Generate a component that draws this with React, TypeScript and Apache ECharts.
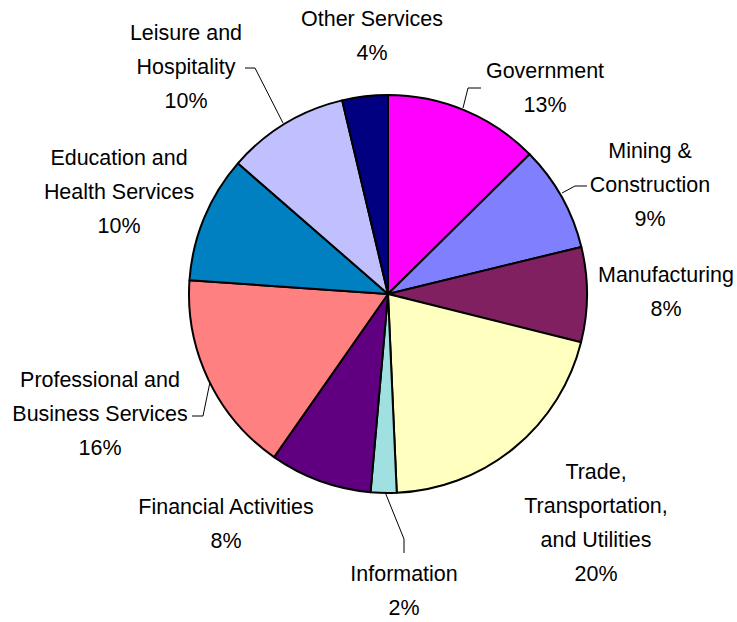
import React, { useEffect, useRef } from "react";
import * as echarts from "echarts";

const categories = [
  "Government",
  "Mining &\nConstruction",
  "Manufacturing",
  "Trade,\nTransportation,\nand Utilities",
  "Information",
  "Financial Activities",
  "Professional and\nBusiness Services",
  "Education and\nHealth Services",
  "Leisure and\nHospitality",
  "Other Services",
];
const shares = [12.6, 8.6, 7.7, 20.4, 2.1, 8.3, 16.4, 10.3, 9.9, 3.7];
const colors = [
  "#FF00FF",
  "#8080FF",
  "#802060",
  "#FFFFC0",
  "#A0E0E0",
  "#600080",
  "#FF8080",
  "#0080C0",
  "#C0C0FF",
  "#000080",
];

// label anchor positions (layout)
const labelPos: [number, number][] = [
  [545, 88],
  [650, 185],
  [666, 292],
  [596, 523],
  [404, 591],
  [226, 524],
  [100, 414],
  [119, 192],
  [186, 67],
  [372, 36],
];
// leader lines (layout), null = none
const leaderLines: ([number, number][] | null)[] = [
  [[463, 108], [468, 88], [481, 88]],
  [[562, 193], [575, 186], [587, 186]],
  null,
  null,
  [[385, 492], [404, 539], [404, 553]],
  null,
  [[210, 382], [203, 416], [192, 416]],
  null,
  [[283, 123], [255, 68], [245, 68]],
  null,
];

const FONT = '"Liberation Sans Narrow", "Arial Narrow", "Liberation Sans", Arial, sans-serif';

function pickFontSize(): number {
  try {
    const c = document.createElement("canvas");
    const ctx = c.getContext("2d");
    if (!ctx) return 22;
    ctx.font = "100px " + FONT;
    const w = ctx.measureText("Manufacturing").width;
    const s = (136 / w) * 100;
    return Math.max(18, Math.min(26, s));
  } catch (e) {
    return 22;
  }
}

export default function App() {
  const ref = useRef<HTMLDivElement>(null);
  useEffect(() => {
    if (!ref.current) return;
    const chart = echarts.init(ref.current, undefined, { renderer: "svg" });
    const fontSize = pickFontSize();
    chart.setOption({
      animation: false,
      backgroundColor: "#ffffff",
      series: [
        {
          type: "pie",
          center: [388, 294],
          radius: 199,
          startAngle: 90,
          clockwise: true,
          percentPrecision: 0,
          avoidLabelOverlap: false,
          itemStyle: { borderColor: "#000000", borderWidth: 2 },
          label: {
            show: true,
            position: "outside",
            formatter: "{b}\n{d}%",
            fontFamily: FONT,
            fontSize,
            lineHeight: 34,
            color: "#000000",
            align: "center",
          },
          labelLine: { show: false, lineStyle: { color: "#000000", width: 1 } },
          labelLayout: (params: any) => {
            const i = params.dataIndex;
            const [x, y] = labelPos[i];
            const res: any = { x, y, align: "center", verticalAlign: "middle" };
            const pts = leaderLines[i];
            if (pts) res.labelLinePoints = pts;
            return res;
          },
          emphasis: { disabled: true },
          data: categories.map((name, i) => ({
            name,
            value: shares[i],
            itemStyle: { color: colors[i] },
            labelLine: { show: leaderLines[i] !== null },
          })),
        },
      ],
    });
    return () => chart.dispose();
  }, []);
  return (
    <div
      ref={ref}
      style={{ position: "fixed", left: 0, top: 0, width: 737, height: 622 }}
    />
  );
}
